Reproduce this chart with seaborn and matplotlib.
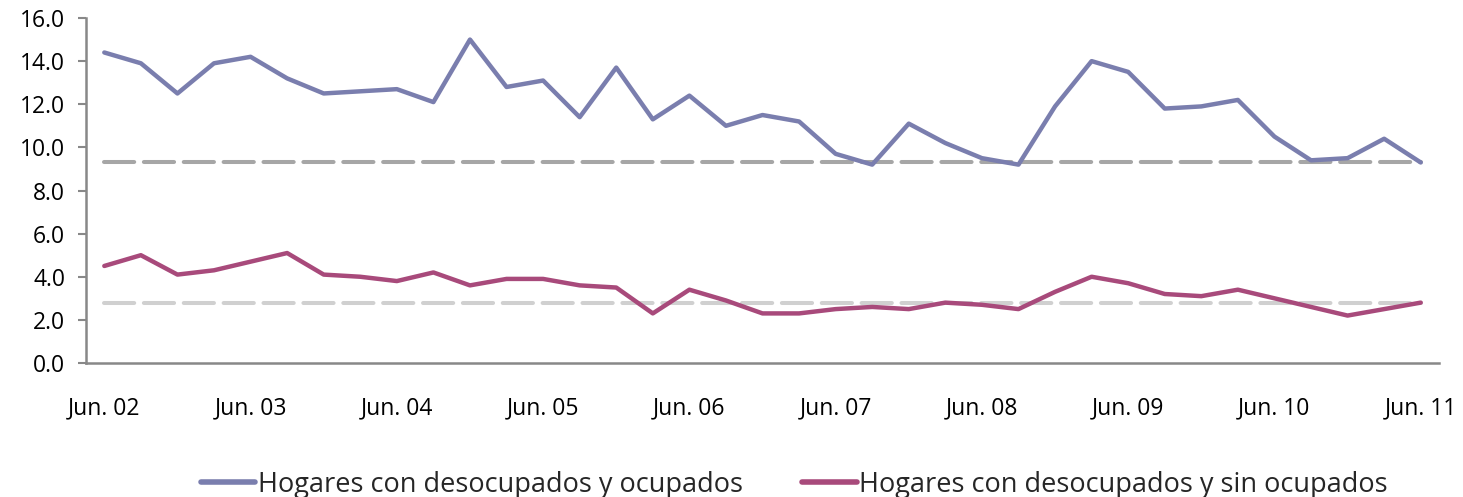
import numpy as np
import pandas as pd
import matplotlib
matplotlib.use("Agg")
import matplotlib.pyplot as plt
import matplotlib.ticker as mticker
import seaborn as sns

# quarterly series, Jun. 02 .. Jun. 11
years = ["02", "03", "04", "05", "06", "07", "08", "09", "10", "11"]
con_ocupados = [14.4, 13.9, 12.5, 13.9, 14.2, 13.2, 12.5, 12.6, 12.7, 12.1,
                15.0, 12.8, 13.1, 11.4, 13.7, 11.3, 12.4, 11.0, 11.5, 11.2,
                9.7, 9.2, 11.1, 10.2, 9.5, 9.2, 11.9, 14.0, 13.5, 11.8,
                11.9, 12.2, 10.5, 9.4, 9.5, 10.4, 9.3]
sin_ocupados = [4.5, 5.0, 4.1, 4.3, 4.7, 5.1, 4.1, 4.0, 3.8, 4.2,
                3.6, 3.9, 3.9, 3.6, 3.5, 2.3, 3.4, 2.9, 2.3, 2.3,
                2.5, 2.6, 2.5, 2.8, 2.7, 2.5, 3.3, 4.0, 3.7, 3.2,
                3.1, 3.4, 3.0, 2.6, 2.2, 2.5, 2.8]
ref_con = 9.3
ref_sin = 2.8

names = ["Hogares con desocupados y ocupados", "Hogares con desocupados y sin ocupados"]
colors = ["#7A7EAE", "#A84A7B"]

n = len(con_ocupados)
df = pd.DataFrame({
    "t": list(range(n)) * 2,
    "valor": con_ocupados + sin_ocupados,
    "serie": [names[0]] * n + [names[1]] * n,
})

sns.set_style("white")
plt.rcParams["font.family"] = ["Open Sans", "DejaVu Sans"]

fig = plt.figure(figsize=(14.63, 4.97), dpi=100)
ax = fig.add_axes([0.0588, 0.2696, 0.9248, 0.6942])

# reference lines (last value of each series)
ax.plot(range(n), [ref_con] * n, color="#A6A6A6", lw=2.9,
        dashes=(7.5, 2.4), dash_capstyle="round", zorder=1)
ax.plot(range(n), [ref_sin] * n, color="#D0D0D0", lw=2.9,
        dashes=(7.5, 2.4), dash_capstyle="round", zorder=1)

sns.lineplot(data=df, x="t", y="valor", hue="serie", palette=colors,
             linewidth=3.2, ax=ax, legend=False, zorder=3)

ax.set_xlim(-0.5, n - 0.5)
ax.set_ylim(0, 16)
ax.yaxis.set_major_locator(mticker.MultipleLocator(2))
ax.yaxis.set_major_formatter(mticker.FormatStrFormatter("%.1f"))

ax.set_xticks(range(0, n, 4))
ax.set_xticklabels(["Jun. " + y for y in years])
ax.set_xticks(np.arange(-0.5, n, 1), minor=True)
ax.tick_params(axis="x", which="major", length=0, pad=24, labelsize=16.5, colors="black")
ax.tick_params(axis="x", which="minor", length=6, width=1.5, color="#888888", direction="out")
ax.tick_params(axis="y", length=6, width=1.5, color="#888888", pad=9, labelsize=16.5,
               labelcolor="black", left=True, direction="out")
ax.set_xlabel("")
ax.set_ylabel("")

for s in ["top", "right"]:
    ax.spines[s].set_visible(False)
for s in ["left", "bottom"]:
    ax.spines[s].set_color("#888888")
    ax.spines[s].set_linewidth(1.8)

handles = [plt.Line2D([], [], color=c, lw=4) for c in colors]
fig.legend(handles, names, loc="center", bbox_to_anchor=(0.543, 0.025), ncol=2,
           frameon=False, fontsize=19.5, handlelength=2.0, handletextpad=0.1,
           columnspacing=2.2)

fig.savefig("out.png", dpi=100)
